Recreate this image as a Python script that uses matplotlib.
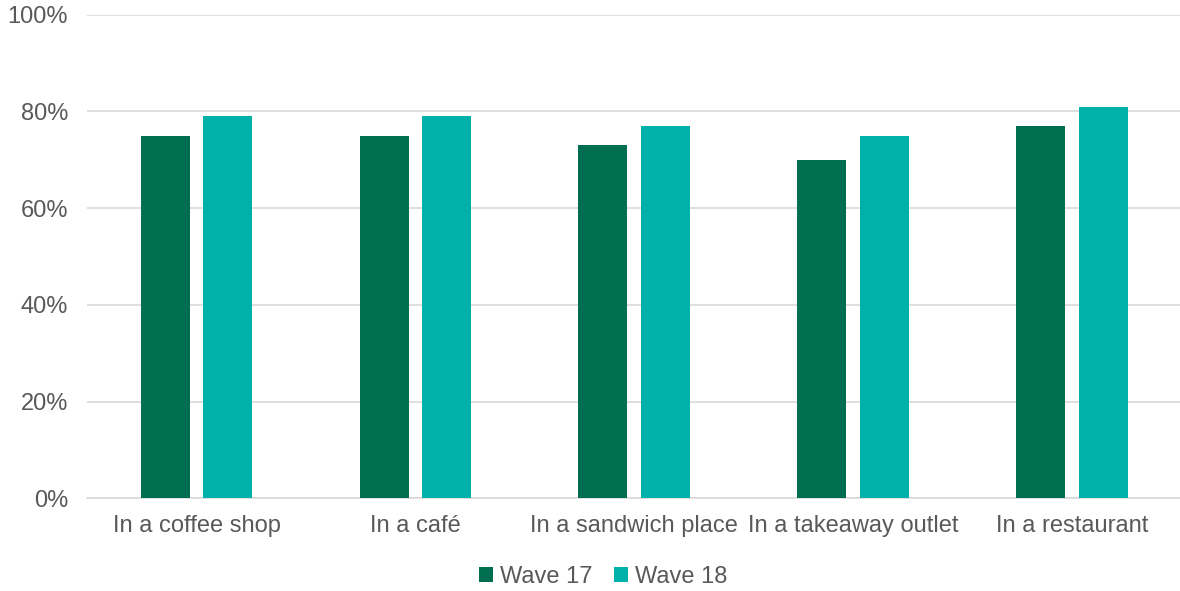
import numpy as np
import matplotlib.pyplot as plt

# chart data
categories = ["In a coffee shop", "In a café", "In a sandwich place", "In a takeaway outlet", "In a restaurant"]
wave17 = [75, 75, 73, 70, 77]
wave18 = [79, 79, 77, 75, 81]
yticks = [0, 20, 40, 60, 80, 100]

plt.rcParams['font.family'] = ['Liberation Sans', 'DejaVu Sans']

fig = plt.figure(figsize=(11.8, 5.91), dpi=100)
ax = fig.add_axes([0.074, 0.157, 0.927, 0.818])

x = np.arange(len(categories))
w = 0.224
off = 0.143
ax.bar(x - off, wave17, width=w, color="#006F51", label="Wave 17", zorder=3)
ax.bar(x + off, wave18, width=w, color="#00B1AA", label="Wave 18", zorder=3)

ax.set_xlim(-0.5, len(categories) - 0.5)
ax.set_ylim(0, 100)
ax.set_yticks(yticks)
ax.set_yticklabels([f"{v}%" for v in yticks])
ax.set_xticks(x)
ax.set_xticklabels(categories)
ax.yaxis.grid(True, color="#D9D9D9", linewidth=1.2, zorder=0)
for s in ["top", "right", "left"]:
    ax.spines[s].set_visible(False)
ax.spines["bottom"].set_color("#D9D9D9")
ax.spines["bottom"].set_linewidth(1.2)
ax.tick_params(axis="both", length=0, labelsize=17, colors="#595959")
ax.tick_params(axis="x", pad=12)
ax.tick_params(axis="y", pad=14)

fig.legend(loc="center", bbox_to_anchor=(0.511, 0.024), ncol=2, frameon=False,
           fontsize=17, labelcolor="#595959", handlelength=0.6, handleheight=0.6,
           handletextpad=0.3, columnspacing=0.9, borderpad=0.1)

fig.savefig("out.png", dpi=100)
